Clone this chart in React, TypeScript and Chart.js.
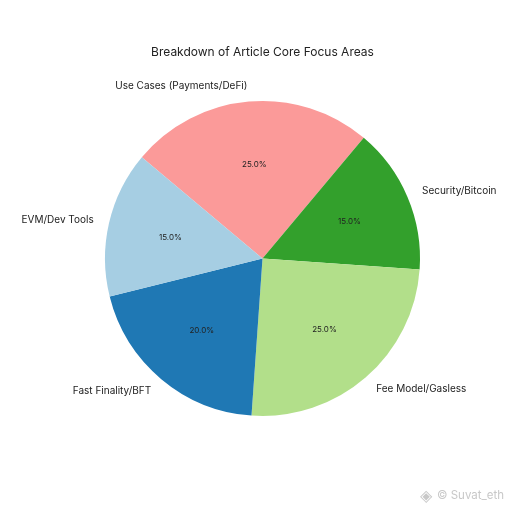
import React, { useEffect, useRef } from "react";
import { Chart, registerables } from "chart.js";

Chart.register(...registerables);

const TITLE = "Breakdown of Article Core Focus Areas";
const WATERMARK = "© Suvat_eth";
const categories = ["Use Cases (Payments/DeFi)", "Security/Bitcoin", "Fee Model/Gasless", "Fast Finality/BFT", "EVM/Dev Tools"];
const shares = [25, 15, 25, 20, 15];
const sliceColors = ["#fb9a99", "#33a02c", "#b2df8a", "#1f78b4", "#a6cee3"];
const FONT = 'Inter, "Open Sans", sans-serif';

const pieText = {
  id: "pieText",
  afterDatasetsDraw(chart: any) {
    const { ctx } = chart;
    const arcs = chart.getDatasetMeta(0).data;
    const total = shares.reduce((a, b) => a + b, 0);
    ctx.save();
    arcs.forEach((arc: any, i: number) => {
      const { x, y, startAngle, endAngle, outerRadius } = arc.getProps(["x", "y", "startAngle", "endAngle", "outerRadius"], true);
      const mid = (startAngle + endAngle) / 2;
      const c = Math.cos(mid);
      const s = Math.sin(mid);
      ctx.fillStyle = "#222222";
      ctx.textBaseline = "middle";
      ctx.textAlign = "center";
      ctx.font = `8px ${FONT}`;
      ctx.fillText(`${((shares[i] / total) * 100).toFixed(1)}%`, x + c * outerRadius * 0.6, y + s * outerRadius * 0.6);
      ctx.textAlign = c >= 0 ? "left" : "right";
      ctx.font = `10px ${FONT}`;
      ctx.fillText(categories[i], x + c * outerRadius * 1.1, y + s * outerRadius * 1.1);
    });
    ctx.font = `11.5px ${FONT}`;
    ctx.fillStyle = "#c8c8c8";
    ctx.textAlign = "left";
    ctx.font = `16px ${FONT}`;
    ctx.fillText("◈", 420, 496);
    ctx.font = `11.5px ${FONT}`;
    ctx.fillText(WATERMARK, 437, 496);
    ctx.restore();
  },
};

export default function App() {
  const ref = useRef<HTMLCanvasElement>(null);
  useEffect(() => {
    document.body.style.margin = "0";
    document.body.style.background = "#ffffff";
    const chart = new Chart(ref.current!, {
      type: "pie",
      data: {
        labels: categories,
        datasets: [{ data: shares, backgroundColor: sliceColors, borderWidth: 0 }],
      },
      options: {
        animation: false,
        responsive: false,
        rotation: -50,
        layout: { padding: { left: 105, right: 92, top: 0, bottom: 96 } },
        plugins: {
          legend: { display: false },
          tooltip: { enabled: false },
          title: {
            display: true,
            text: TITLE,
            color: "#222222",
            fullSize: false,
            font: { family: FONT, size: 12, weight: "normal" },
            padding: { top: 45, bottom: 41.6 },
          },
        },
      },
      plugins: [pieText],
    } as any);
    return () => chart.destroy();
  }, []);
  return <canvas ref={ref} width={512} height={512} style={{ display: "block" }} />;
}
